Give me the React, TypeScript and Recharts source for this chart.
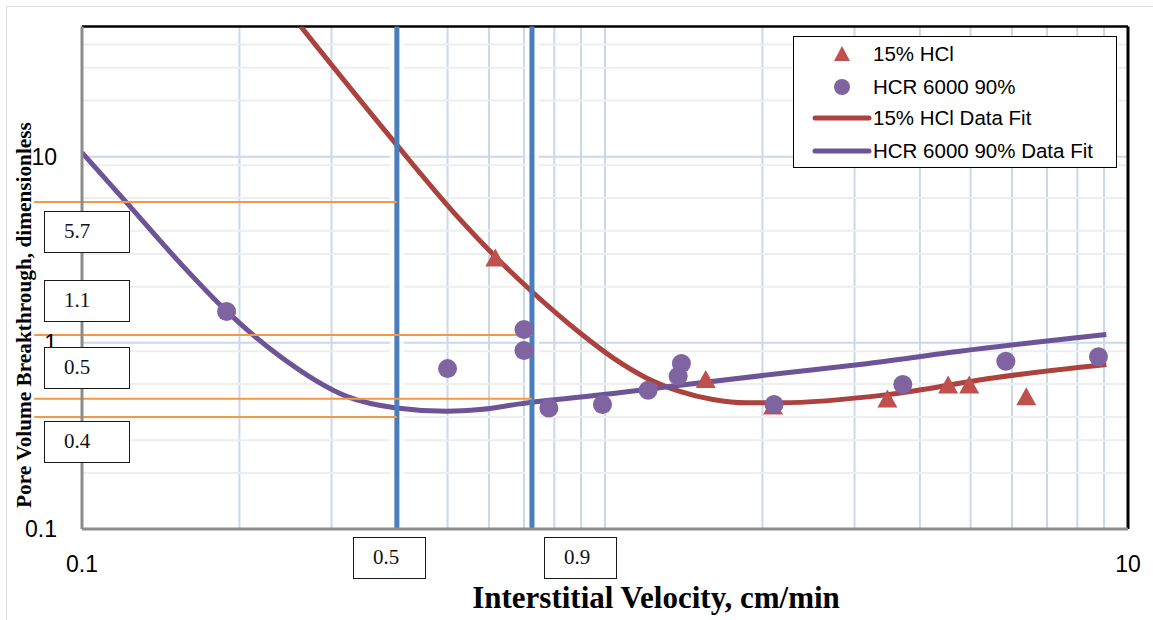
import {
  ComposedChart,
  Scatter,
  Line,
  XAxis,
  YAxis,
  CartesianGrid,
  ReferenceLine,
} from "recharts";

// 15% HCl core floods: interstitial velocity (cm/min) vs pore volumes to breakthrough
const hclVelocity = [0.617, 1.558, 2.096, 3.467, 4.53, 4.97, 6.39];
const hclPv = [2.87, 0.639, 0.46, 0.502, 0.597, 0.597, 0.516];

// HCR 6000 90% core floods
const hcrVelocity = [0.189, 0.5, 0.7, 0.7, 0.781, 0.989, 1.209, 1.38, 1.4, 2.105, 3.71, 5.84, 8.78];
const hcrPv = [1.473, 0.727, 1.179, 0.909, 0.447, 0.466, 0.556, 0.661, 0.774, 0.466, 0.597, 0.796, 0.841];

// fitted curves, sampled along the trend
const hclFitVelocity = [0.262, 0.3965, 0.528, 0.62, 0.729, 0.895, 1.036, 1.2, 1.39, 1.609, 1.864, 2.159, 3.467, 5.52, 9.09];
const hclFitPv = [50, 11.89, 4.6, 2.864, 1.857, 1.132, 0.83, 0.648, 0.549, 0.496, 0.476, 0.476, 0.527, 0.648, 0.764];

const hcrFitVelocity = [0.1, 0.1217, 0.1539, 0.189, 0.239, 0.3206, 0.3995, 0.498, 0.576, 0.6875, 1.036, 1.39, 2.159, 3.07, 4.77, 9.09];
const hcrFitPv = [10.51, 5.66, 2.69, 1.479, 0.847, 0.516, 0.447, 0.429, 0.438, 0.47, 0.534, 0.592, 0.684, 0.764, 0.901, 1.108];

// marker lines for the two design rates and the read-off breakthrough levels
const cutVelocity = [0.4, 0.725];
const cutLabels = ["0.5", "0.9"];
const levelPv = [5.7, 1.1, 0.5, 0.4];
const levelEnd = [0.4, 0.725, 0.725, 0.4];
const levelLabels = ["5.7", "1.1", "0.5", "0.4"];

// axes
const xTicks = [0.1, 10];
const yTicks = [0.1, 1, 10];
const xGrid = [0.2, 0.3, 0.4, 0.5, 0.6, 0.7, 0.8, 0.9, 1, 2, 3, 4, 5, 6, 7, 8, 9];
const yGridMinor = [0.2, 0.3, 0.4, 0.5, 0.6, 0.7, 0.8, 0.9, 2, 3, 4, 5, 6, 7, 8, 9, 20, 30, 40];
const yGridMajor = [1, 10];

const RED = "#c0504d";
const RED_FIT = "#ab423d";
const PURPLE = "#8064a2";
const PURPLE_FIT = "#6c5496";
const SANS = '"Liberation Sans", Arial, sans-serif';
const SERIF = '"Liberation Serif", "Times New Roman", serif';

const renderXTick = ({ x, y, payload }: any) => (
  <text x={x} y={y + 43} textAnchor="middle" fontSize={23} fontFamily={SANS} fill="#000">
    {String(payload.value)}
  </text>
);

const renderYTick = ({ x, y, payload }: any) => (
  <text x={x - 25} y={y + 8} textAnchor="end" fontSize={23} fontFamily={SANS} fill="#000">
    {String(payload.value)}
  </text>
);

const renderTriangle = ({ cx, cy }: any) => (
  <polygon points={`${cx},${cy - 9} ${cx + 10},${cy + 9} ${cx - 10},${cy + 9}`} fill={RED} />
);

const renderCircle = ({ cx, cy }: any) => <circle cx={cx} cy={cy} r={9.5} fill={PURPLE} />;

const boxStyle = (left: number, top: number, width: number): React.CSSProperties => ({
  position: "absolute",
  left,
  top,
  width,
  height: 42,
  boxSizing: "border-box",
  border: "1.5px solid #1a1a1a",
  background: "#fff",
  fontFamily: SERIF,
  fontSize: 21,
  lineHeight: "39px",
  paddingLeft: 19,
  color: "#111",
});

const legendRows = [
  { label: "15% HCl", kind: "triangle" },
  { label: "HCR 6000 90%", kind: "circle" },
  { label: "15% HCl Data Fit", kind: "redLine" },
  { label: "HCR 6000 90% Data Fit", kind: "purpleLine" },
];

function LegendMark({ kind }: { kind: string }) {
  return (
    <svg width={60} height={24} style={{ position: "absolute", left: 18, top: 0 }}>
      {kind === "triangle" && <polygon points="30,4 38,19 22,19" fill={RED} />}
      {kind === "circle" && <circle cx={30} cy={12} r={8} fill={PURPLE} />}
      {kind === "redLine" && (
        <line x1={3} y1={12} x2={57} y2={12} stroke={RED_FIT} strokeWidth={5} strokeLinecap="round" />
      )}
      {kind === "purpleLine" && (
        <line x1={3} y1={12} x2={57} y2={12} stroke={PURPLE_FIT} strokeWidth={5} strokeLinecap="round" />
      )}
    </svg>
  );
}

export default function App() {
  const hclPoints = hclVelocity.map((x, i) => ({ x, y: hclPv[i] }));
  const hcrPoints = hcrVelocity.map((x, i) => ({ x, y: hcrPv[i] }));
  const hclFit = hclFitVelocity.map((x, i) => ({ x, y: hclFitPv[i] }));
  const hcrFit = hcrFitVelocity.map((x, i) => ({ x, y: hcrFitPv[i] }));
  const legendTops = [17, 50, 81, 114];

  return (
    <div
      style={{
        position: "absolute",
        left: 0,
        top: 0,
        width: 1153,
        height: 620,
        overflow: "hidden",
        background: "#fff",
      }}
    >
      <div
        style={{
          position: "absolute",
          left: 6,
          top: 6,
          width: 1200,
          height: 700,
          border: "1.5px solid #d9d9d9",
        }}
      />
      <ComposedChart width={1153} height={620} margin={{ top: 26.5, right: 25, bottom: 51, left: 22 }}>
        <CartesianGrid horizontal={false} verticalValues={xGrid} stroke="#c9d8ec" strokeWidth={2} />
        <CartesianGrid vertical={false} horizontalValues={yGridMinor} stroke="#eeeeee" strokeWidth={2} />
        <CartesianGrid vertical={false} horizontalValues={yGridMajor} stroke="#c9d8ec" strokeWidth={2} />
        <XAxis
          type="number"
          dataKey="x"
          scale="log"
          domain={[0.1, 10]}
          ticks={xTicks}
          allowDataOverflow
          tickLine={false}
          tickSize={0}
          tickMargin={0}
          height={40}
          axisLine={{ stroke: "#8c8c8c", strokeWidth: 3 }}
          tick={renderXTick}
        />
        <YAxis
          type="number"
          dataKey="y"
          scale="log"
          domain={[0.1, 50]}
          ticks={yTicks}
          allowDataOverflow
          tickLine={false}
          tickSize={0}
          tickMargin={0}
          width={60}
          axisLine={{ stroke: "#8c8c8c", strokeWidth: 3 }}
          tick={renderYTick}
        />
        {cutVelocity.map((v) => (
          <ReferenceLine key={"halo" + v} x={v} stroke="#ffffff" strokeOpacity={0.8} strokeWidth={14} />
        ))}
        <ReferenceLine y={50} stroke="#000" strokeWidth={2.5} />
        <ReferenceLine x={10} stroke="#000" strokeWidth={3} />
        <Scatter data={hclPoints} shape={renderTriangle} isAnimationActive={false} />
        <Scatter data={hcrPoints} shape={renderCircle} isAnimationActive={false} />
        <Line
          data={hclFit}
          dataKey="y"
          type="monotone"
          stroke={RED_FIT}
          strokeWidth={5}
          dot={false}
          activeDot={false}
          isAnimationActive={false}
        />
        <Line
          data={hcrFit}
          dataKey="y"
          type="monotone"
          stroke={PURPLE_FIT}
          strokeWidth={5}
          dot={false}
          activeDot={false}
          isAnimationActive={false}
        />
        {cutVelocity.map((v) => (
          <ReferenceLine key={"cut" + v} x={v} stroke="#4a7ebb" strokeWidth={5} />
        ))}
        {levelPv.map((lv, i) => (
          <ReferenceLine
            key={"lvl" + i}
            segment={[
              { x: 0.081, y: lv },
              { x: levelEnd[i], y: lv },
            ]}
            stroke="#f79646"
            strokeWidth={2}
            ifOverflow="visible"
          />
        ))}
      </ComposedChart>

      {/* value boxes on the left */}
      {levelLabels.map((t, i) => (
        <div key={"lb" + t} style={boxStyle(44, [211, 280, 347, 421][i], 86)}>
          {t}
        </div>
      ))}
      {/* rate boxes under the axis */}
      {cutLabels.map((t, i) => (
        <div key={"cb" + t} style={boxStyle([353, 544][i], 537, 72.5)}>
          {t}
        </div>
      ))}

      {/* legend */}
      <div
        style={{
          position: "absolute",
          left: 793,
          top: 36,
          width: 324,
          height: 132,
          boxSizing: "border-box",
          border: "1.5px solid #000",
          background: "#fff",
          fontFamily: SANS,
          fontSize: 20.5,
        }}
      >
        {legendRows.map((r, i) => (
          <div key={r.label} style={{ position: "absolute", left: 0, top: legendTops[i] - 12, height: 24, width: 320 }}>
            <LegendMark kind={r.kind} />
            <span style={{ position: "absolute", left: 79, top: 0, lineHeight: "24px", whiteSpace: "nowrap" }}>
              {r.label}
            </span>
          </div>
        ))}
      </div>

      <svg width={1153} height={620} style={{ position: "absolute", left: 0, top: 0, pointerEvents: "none" }}>
        <text x={656} y={608} textAnchor="middle" fontFamily={SERIF} fontWeight="bold" fontSize={31} fill="#000">
          Interstitial Velocity, cm/min
        </text>
        <text
          transform="translate(31,315) rotate(-90)"
          textAnchor="middle"
          fontFamily={SERIF}
          fontWeight="bold"
          fontSize={21.3}
          fill="#000"
        >
          Pore Volume Breakthrough, dimensionless
        </text>
      </svg>
    </div>
  );
}
